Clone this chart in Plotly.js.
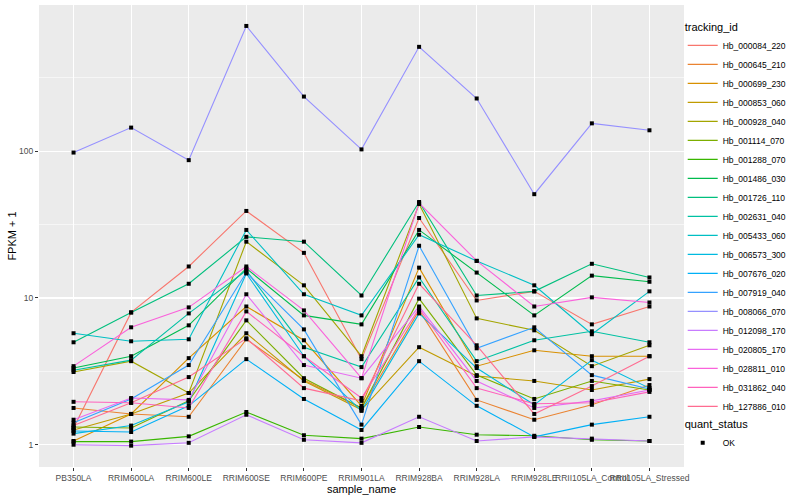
<!DOCTYPE html>
<html>
<head>
<meta charset="utf-8">
<script src="https://cdn.plot.ly/plotly-3.0.1.min.js"></script>
<style>html,body{margin:0;padding:0;background:#fff;} #chart{width:800px;height:500px;}</style>
</head>
<body>
<div id="chart"></div>
<script>
// Categories (x axis)
const samples = ["PB350LA","RRIM600LA","RRIM600LE","RRIM600SE","RRIM600PE","RRIM901LA","RRIM928BA","RRIM928LA","RRIM928LE","RRII105LA_Control","RRII105LA_Stressed"];

// Series values (FPKM + 1), one array per tracking_id
const hb_000084_220 = [1.30, 7.97, 16.4, 39.2, 20.3, 3.83, 35.1, 9.62, 11.1, 6.61, 8.75];
const hb_000645_210 = [1.78, 1.62, 1.55, 5.23, 2.76, 1.78, 8.23, 2.02, 1.48, 1.87, 2.55];
const hb_000699_230 = [1.06, 1.62, 3.89, 8.75, 5.15, 1.84, 16.1, 3.43, 4.40, 4.01, 4.01];
const hb_000853_060 = [1.26, 1.62, 2.25, 5.75, 2.72, 1.73, 4.62, 2.94, 2.72, 2.36, 2.80];
const hb_000928_040 = [3.13, 3.71, 2.25, 24.2, 12.2, 4.01, 43.7, 7.26, 6.02, 3.43, 4.76];
const hb_001114_070 = [1.32, 1.30, 1.99, 7.04, 2.84, 1.78, 9.9, 2.98, 2.05, 2.72, 2.36];
const hb_001288_070 = [1.05, 1.05, 1.14, 1.67, 1.16, 1.10, 1.32, 1.17, 1.15, 1.08, 1.06];
const hb_001486_030 = [3.33, 4.01, 6.51, 15.9, 7.61, 6.61, 29.1, 14.9, 7.61, 14.2, 12.9];
const hb_001726_110 = [4.99, 7.97, 12.5, 26.1, 24.2, 10.4, 45.1, 10.4, 11.1, 17.1, 13.8];
const hb_002631_040 = [3.22, 3.77, 7.85, 15.4, 4.62, 3.38, 13.8, 3.71, 5.15, 5.93, 4.99];
const hb_005433_060 = [5.75, 5.07, 5.23, 29.1, 10.6, 7.61, 27.0, 17.9, 12.2, 5.66, 11.1];
const hb_006573_300 = [1.19, 1.35, 1.96, 14.7, 4.01, 1.70, 7.85, 3.33, 1.87, 3.77, 2.43];
const hb_007676_020 = [1.24, 1.22, 1.84, 3.83, 2.05, 1.26, 3.71, 1.84, 1.13, 1.37, 1.55];
const hb_007919_040 = [1.41, 2.05, 3.49, 14.9, 6.11, 1.37, 22.7, 4.54, 6.31, 2.98, 2.40];
const hb_008066_070 = [98, 145, 87, 715, 236, 103, 515, 229, 51, 155, 139];
const hb_012098_170 = [1.00, 0.985, 1.03, 1.60, 1.08, 1.03, 1.55, 1.06, 1.13, 1.10, 1.06];
const hb_020805_170 = [1.48, 2.08, 2.02, 10.6, 3.49, 2.84, 8.75, 2.72, 1.78, 1.99, 2.36];
const hb_028811_010 = [3.43, 6.31, 8.63, 16.4, 8.23, 2.84, 44.4, 17.9, 8.75, 10.1, 9.32];
const hb_031862_040 = [1.96, 1.93, 1.78, 8.10, 4.01, 2.08, 8.49, 2.43, 1.90, 1.93, 2.29];
const hb_127886_010 = [1.35, 1.93, 2.89, 5.31, 2.43, 1.99, 12.5, 4.76, 1.62, 2.51, 4.01];

// Legend labels
const trackingIds = ["Hb_000084_220","Hb_000645_210","Hb_000699_230","Hb_000853_060","Hb_000928_040","Hb_001114_070","Hb_001288_070","Hb_001486_030","Hb_001726_110","Hb_002631_040","Hb_005433_060","Hb_006573_300","Hb_007676_020","Hb_007919_040","Hb_008066_070","Hb_012098_170","Hb_020805_170","Hb_028811_010","Hb_031862_040","Hb_127886_010"];
const quantStatus = ["OK"];

// Y tick labels
const yTickVals = [1, 10, 100];
const yTickText = ["1", "10", "100"];
const yMinorVals = [3.1623, 31.623, 316.23];

const seriesValues = [hb_000084_220, hb_000645_210, hb_000699_230, hb_000853_060, hb_000928_040, hb_001114_070, hb_001288_070, hb_001486_030, hb_001726_110, hb_002631_040, hb_005433_060, hb_006573_300, hb_007676_020, hb_007919_040, hb_008066_070, hb_012098_170, hb_020805_170, hb_028811_010, hb_031862_040, hb_127886_010];

// ggplot2 default hue palette for 20 levels
const palette = ["#F8766D","#EA8331","#D89000","#C09B00","#A3A500","#7CAE00","#39B600","#00BB4E","#00BF7D","#00C1A3","#00BFC4","#00BAE0","#00B0F6","#35A2FF","#9590FF","#C77CFF","#E76BF3","#FA62DB","#FF62BC","#FF6C91"];

const FONT = "Liberation Sans, Arial, Helvetica, sans-serif";

const traces = [];
seriesValues.forEach((vals, i) => {
  traces.push({
    type: "scatter", mode: "lines", x: samples, y: vals,
    name: trackingIds[i], legend: "legend",
    line: {color: palette[i], width: 1.1},
    hoverinfo: "skip"
  });
});
seriesValues.forEach((vals, i) => {
  traces.push({
    type: "scatter", mode: "markers", x: samples, y: vals,
    name: quantStatus[0], legend: "legend2", showlegend: i === 0,
    marker: {color: "#000000", size: 4, symbol: "square"},
    hoverinfo: "skip"
  });
});

const layout = {
  width: 800, height: 500,
  margin: {l: 39, r: 116, t: 5, b: 33},
  paper_bgcolor: "#ffffff",
  plot_bgcolor: "#EBEBEB",
  font: {family: FONT, color: "#000000"},
  showlegend: true,
  xaxis: {
    type: "category",
    categoryorder: "array", categoryarray: samples,
    range: [-0.6, 10.6],
    showgrid: true, gridcolor: "#ffffff", gridwidth: 1.1,
    zeroline: false, showline: false,
    ticks: "outside", ticklen: 3, tickcolor: "#333333", tickwidth: 1,
    tickangle: 0,
    tickfont: {family: FONT, size: 8.5, color: "#4D4D4D"},
    title: {text: "sample_name", font: {family: FONT, size: 11, color: "#000000"}, standoff: 2}
  },
  yaxis: {
    type: "log",
    range: [-0.152, 2.997],
    tickvals: yTickVals, ticktext: yTickText,
    showgrid: true, gridcolor: "#ffffff", gridwidth: 1.1,
    minor: {tickvals: yMinorVals, showgrid: true, gridcolor: "#ffffff", gridwidth: 0.55, ticks: ""},
    zeroline: false, showline: false,
    ticks: "outside", ticklen: 3, tickcolor: "#333333", tickwidth: 1,
    tickfont: {family: FONT, size: 8.5, color: "#4D4D4D"},
    title: {text: "FPKM + 1", font: {family: FONT, size: 11, color: "#000000"}, standoff: 0}
  },
  legend: {
    x: 0.998, xanchor: "left", y: 0.975, yanchor: "top",
    bgcolor: "rgba(0,0,0,0)",
    title: {text: "tracking_id", font: {family: FONT, size: 11}},
    font: {family: FONT, size: 8.5, color: "#000000"},
    traceorder: "normal", itemwidth: 30
  },
  legend2: {
    x: 0.998, xanchor: "left", y: 0.115, yanchor: "top",
    bgcolor: "rgba(0,0,0,0)",
    title: {text: "quant_status", font: {family: FONT, size: 11}},
    font: {family: FONT, size: 8.5, color: "#000000"},
    itemwidth: 30
  }
};

Plotly.newPlot("chart", traces, layout, {displayModeBar: false, staticPlot: true});
</script>
</body>
</html>
